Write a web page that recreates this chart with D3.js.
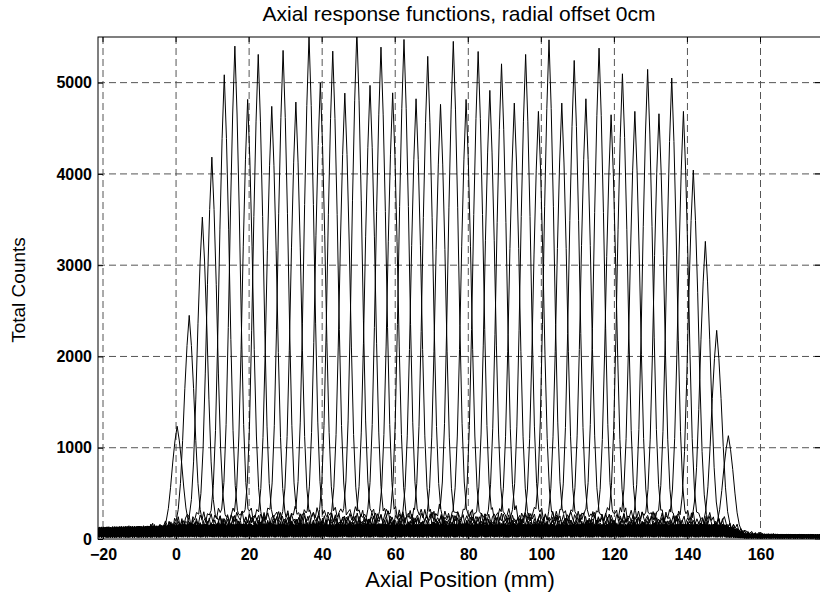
<!DOCTYPE html>
<html><head><meta charset="utf-8">
<script src="https://cdn.jsdelivr.net/npm/d3@7"></script>
<style>body{margin:0;background:#fff} text{font-family:Arial,"Liberation Sans",sans-serif;fill:#000}</style>
</head><body><svg id="c" width="820" height="593"></svg>
<script>
// ---- data ----
const peakCenters = [0.3,3.6,7.2,9.8,13.2,16.1,19.6,22.5,26.2,29.3,32.8,36.4,39.5,42.9,46.2,49.5,53.1,56.1,59.3,62.4,65.7,68.9,72.4,75.9,79.4,82.7,85.9,89.1,92.6,95.7,99.2,102.1,105.6,109.0,112.2,115.8,119.1,122.2,125.6,129.1,132.2,135.7,138.9,141.6,144.9,148.0,151.2];
const peakHeights = [1147,2362,3439,4096,4998,5312,4728,5221,4652,5265,4699,5422,4910,5257,4797,5480,4882,5301,4800,5385,4735,5200,4674,5364,4728,5253,4827,5118,4688,5221,4597,5381,4688,5155,4735,5290,4560,5009,4597,5057,4571,4962,4597,3954,3173,2198,1055];
// shared response shape (mm from centre -> fraction of peak height)
const profileOffsets = [-16,-12,-8,-6,-4.5,-3.6,-3.0,-2.4,-1.8,-1.2,-0.6,0,0.6,1.2,1.8,2.4,3.0,3.6,4.5,6,8,12,16];
const profileRel     = [0,0.008,0.018,0.027,0.034,0.045,0.1,0.22,0.42,0.66,0.86,1,0.86,0.66,0.42,0.22,0.1,0.045,0.034,0.027,0.018,0.008,0];
// background level of the noisy floor (counts)
const baseX     = [-22,-4,0,150,156,178];
const baseLevel = [72,80,88,88,32,28];
const baseJitter = [12,-35,48,-8,60,-52,20,-18,5,-62,38,-27,55,-5,-44,30,-12,66,-38,8,-58,24,45,-20,-3,52,-48,16,-30,62,-10,35,-55,2,40,-25,58,-40,14,-6,50,-60,28,-15,44,-33,6,64,-46,18,-22,36,-50,10,56,-2,-36,26,-64,42,-12];
const xTicks = [-20,0,20,40,60,80,100,120,140,160];
const yTicks = [0,1000,2000,3000,4000,5000];
const titleText = "Axial response functions, radial offset 0cm";
const xLabel = "Axial Position (mm)";
const yLabel = "Total Counts";

// ---- layout ----
const L = 98, R = 821, T = 37, B = 539;
const x = d3.scaleLinear().domain([-21.369, 176.56]).range([L, R]);
const y = d3.scaleLinear().domain([0, 5500]).range([B, T]);
const svg = d3.select("#c");

svg.append("defs").append("clipPath").attr("id","clip")
  .append("rect").attr("x",L).attr("y",T).attr("width",R-L).attr("height",B-T+1);

// grid
const g = svg.append("g");
g.selectAll(".vg").data(xTicks).join("line")
  .attr("x1",d=>x(d)).attr("x2",d=>x(d)).attr("y1",T).attr("y2",B)
  .attr("stroke","#555").attr("stroke-width",1).attr("stroke-dasharray","7,4");
g.selectAll(".hg").data(yTicks.filter(d=>d>0)).join("line")
  .attr("x1",L).attr("x2",R).attr("y1",d=>y(d)).attr("y2",d=>y(d))
  .attr("stroke","#555").attr("stroke-width",1).attr("stroke-dasharray","7,4");

// curves
const profile = d3.scaleLinear().domain(profileOffsets).range(profileRel).clamp(true);
const level = d3.scaleLinear().domain(baseX).range(baseLevel).clamp(true);
const grid = d3.range(-21.4, 177, 0.5);
const N = baseJitter.length;
const curves = peakCenters.map((c, k) => {
  const h = peakHeights[k];
  const pts = grid.map((gx, i) => {
    const lv = level(gx);
    const b = Math.max(2, lv + baseJitter[(i + 17 * k) % N] * lv / 80);
    return [gx, b + h * profile(gx - c)];
  }).filter(p => Math.abs(p[0] - c) > 3.7);
  profileOffsets.filter(o => Math.abs(o) <= 3.7).forEach(o => {
    const px = c + o;
    pts.push([px, level(px) + h * profile(o)]);
  });
  pts.sort((a, b) => a[0] - b[0]);
  return pts;
});
const line = d3.line().x(d => x(d[0])).y(d => y(d[1]));
svg.append("g").attr("clip-path","url(#clip)")
  .selectAll("path").data(curves).join("path")
  .attr("d", line).attr("fill","none").attr("stroke","#000").attr("stroke-width",1);

// axes box
svg.append("rect").attr("x",L).attr("y",T).attr("width",R-L).attr("height",B-T)
  .attr("fill","none").attr("stroke","#000").attr("stroke-width",1);

// axes with inward ticks
const xa = svg.append("g").attr("transform",`translate(0,${B})`)
  .call(d3.axisBottom(x).tickValues(xTicks).tickSize(-5).tickPadding(10).tickFormat(d3.format("d")));
const ya = svg.append("g").attr("transform",`translate(${L},0)`)
  .call(d3.axisLeft(y).tickValues(yTicks).tickSize(-5).tickPadding(6).tickFormat(d3.format("d")));
[xa, ya].forEach(a => {
  a.select(".domain").remove();
  a.selectAll("text").attr("font-size",16).attr("font-weight","bold")
    .attr("font-family","Arial, 'Liberation Sans', sans-serif").attr("fill","#000");
});
// top/right ticks
svg.append("g").selectAll("line").data(xTicks).join("line")
  .attr("x1",d=>x(d)).attr("x2",d=>x(d)).attr("y1",T).attr("y2",T+5).attr("stroke","#000");
svg.append("g").selectAll("line").data(yTicks).join("line")
  .attr("x1",R-6).attr("x2",R).attr("y1",d=>y(d)).attr("y2",d=>y(d)).attr("stroke","#000");

// labels
svg.append("text").attr("x",459).attr("y",21).attr("text-anchor","middle")
  .attr("font-size",21).text(titleText);
svg.append("text").attr("x",460).attr("y",587).attr("text-anchor","middle")
  .attr("font-size",22).text(xLabel);
svg.append("text").attr("transform","translate(25,290) rotate(-90)").attr("text-anchor","middle")
  .attr("font-size",19).text(yLabel);
</script></body></html>
